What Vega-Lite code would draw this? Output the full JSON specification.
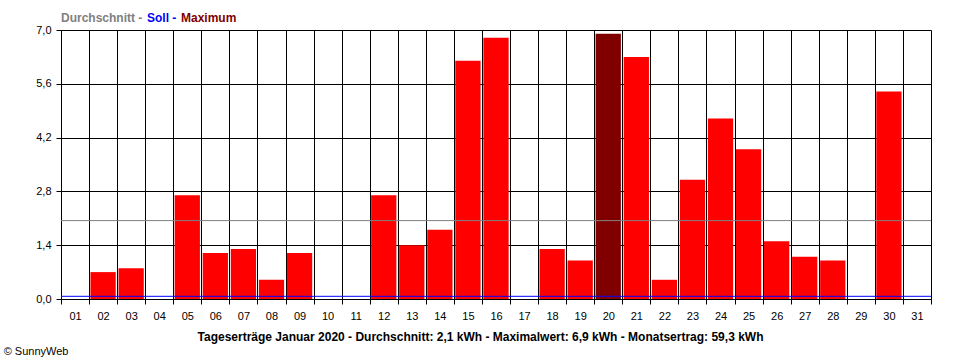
{
  "$schema": "https://vega.github.io/schema/vega-lite/v6.json",
  "width": 870,
  "height": 269,
  "autosize": {"type": "none"},
  "padding": {"left": 61, "top": 30, "right": 29, "bottom": 61},
  "background": "white",
  "config": {"view": {"stroke": null}, "font": "Liberation Sans"},
  "title": {"text": "© SunnyWeb", "orient": "bottom", "anchor": "start", "fontSize": 11, "fontWeight": "normal", "color": "black", "dx": -32, "offset": 4},
  "datasets": {
    "days": [
      {"day": "01", "kWh": 0, "series": "Tag"},
      {"day": "02", "kWh": 0.7, "series": "Tag"},
      {"day": "03", "kWh": 0.8, "series": "Tag"},
      {"day": "04", "kWh": 0, "series": "Tag"},
      {"day": "05", "kWh": 2.7, "series": "Tag"},
      {"day": "06", "kWh": 1.2, "series": "Tag"},
      {"day": "07", "kWh": 1.3, "series": "Tag"},
      {"day": "08", "kWh": 0.5, "series": "Tag"},
      {"day": "09", "kWh": 1.2, "series": "Tag"},
      {"day": "10", "kWh": 0, "series": "Tag"},
      {"day": "11", "kWh": 0, "series": "Tag"},
      {"day": "12", "kWh": 2.7, "series": "Tag"},
      {"day": "13", "kWh": 1.4, "series": "Tag"},
      {"day": "14", "kWh": 1.8, "series": "Tag"},
      {"day": "15", "kWh": 6.2, "series": "Tag"},
      {"day": "16", "kWh": 6.8, "series": "Tag"},
      {"day": "17", "kWh": 0, "series": "Tag"},
      {"day": "18", "kWh": 1.3, "series": "Tag"},
      {"day": "19", "kWh": 1.0, "series": "Tag"},
      {"day": "20", "kWh": 6.9, "series": "Maximum"},
      {"day": "21", "kWh": 6.3, "series": "Tag"},
      {"day": "22", "kWh": 0.5, "series": "Tag"},
      {"day": "23", "kWh": 3.1, "series": "Tag"},
      {"day": "24", "kWh": 4.7, "series": "Tag"},
      {"day": "25", "kWh": 3.9, "series": "Tag"},
      {"day": "26", "kWh": 1.5, "series": "Tag"},
      {"day": "27", "kWh": 1.1, "series": "Tag"},
      {"day": "28", "kWh": 1.0, "series": "Tag"},
      {"day": "29", "kWh": 0, "series": "Tag"},
      {"day": "30", "kWh": 5.4, "series": "Tag"},
      {"day": "31", "kWh": 0, "series": "Tag"}
    ],
    "lines": [
      {"series": "Durchschnitt", "kWh": 2.04},
      {"series": "Soll", "kWh": 0.07}
    ]
  },
  "layer": [
    {
      "data": {"name": "days"},
      "mark": {"type": "bar", "width": {"band": 0.9}},
      "encoding": {
        "x": {
          "field": "day", "type": "ordinal",
          "scale": {"paddingInner": 0, "paddingOuter": 0},
          "axis": {
            "tickBand": "extent", "grid": true, "gridColor": "black", "gridOpacity": 1, "gridWidth": 1,
            "domainColor": "black", "tickColor": "black", "tickSize": 5, "labelAngle": 0,
            "labelFontSize": 11, "labelColor": "black", "labelPadding": 6,
            "title": "Tageserträge Januar 2020 - Durchschnitt: 2,1 kWh - Maximalwert: 6,9 kWh - Monatsertrag: 59,3 kWh",
            "titleFontSize": 12, "titleFontWeight": "bold", "titleColor": "black", "titlePadding": 10, "titleX": 419
          }
        },
        "y": {
          "field": "kWh", "type": "quantitative",
          "scale": {"domain": [0, 7], "nice": false},
          "axis": {
            "values": [0, 1.4, 2.8, 4.2, 5.6, 7], "grid": true, "gridColor": "black", "gridOpacity": 1,
            "domainColor": "black", "tickColor": "black", "tickSize": 5,
            "labelExpr": "replace(format(datum.value, '.1f'), '.', ',')",
            "labelFontSize": 11, "labelColor": "black", "labelPadding": 5, "title": null
          }
        },
        "color": {
          "field": "series", "type": "nominal",
          "scale": {"domain": ["Durchschnitt", "Soll", "Maximum", "Tag"], "range": ["#808080", "#0000FF", "#800000", "#FF0000"]},
          "legend": {
            "orient": "top", "direction": "horizontal", "title": null,
            "values": ["Durchschnitt", "Soll", "Maximum"],
            "symbolSize": 0, "symbolOpacity": 0, "symbolStrokeWidth": 0,
            "labelFontSize": 12, "labelFontWeight": "bold", "labelOffset": -12, "columnPadding": 4,
            "labelExpr": "datum.value == 'Maximum' ? datum.label : datum.label + ' -'",
            "labelColor": {"expr": "datum.value == 'Soll' ? '#0000FF' : datum.value == 'Maximum' ? '#800000' : '#808080'"},
            "offset": 6
          }
        }
      }
    },
    {
      "data": {"name": "lines"},
      "mark": {"type": "rule", "strokeWidth": 1},
      "encoding": {
        "y": {"field": "kWh", "type": "quantitative"},
        "color": {"field": "series", "type": "nominal"}
      }
    }
  ]
}
